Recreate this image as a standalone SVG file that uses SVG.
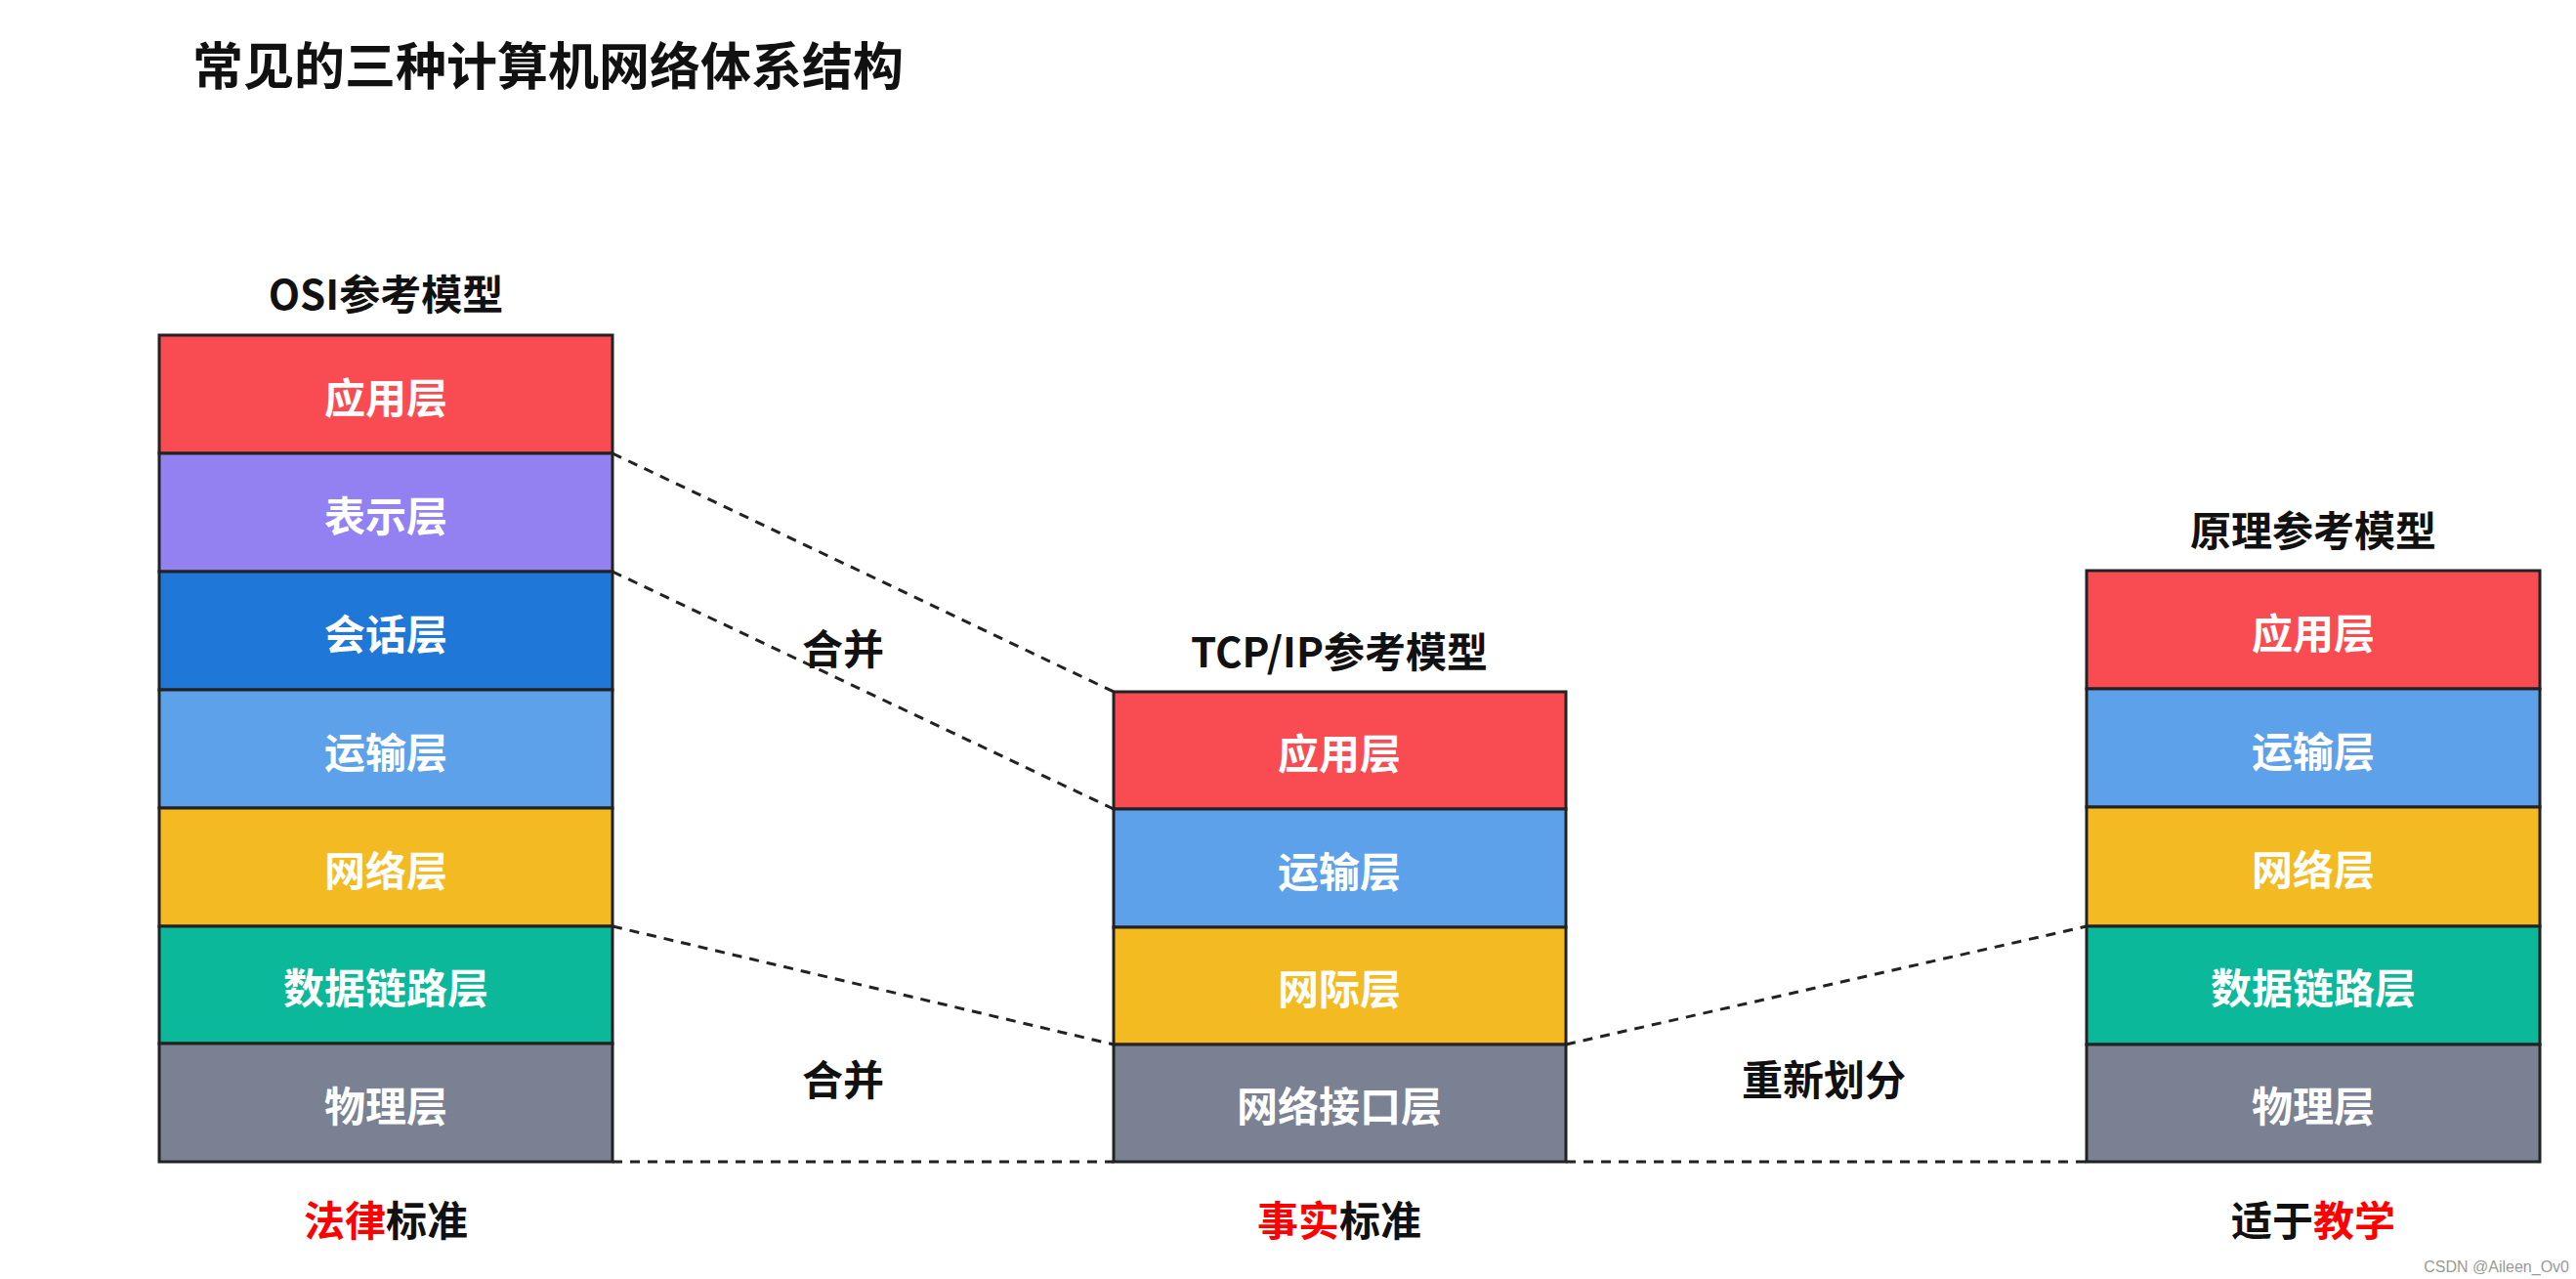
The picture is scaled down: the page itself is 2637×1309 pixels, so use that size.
<svg xmlns="http://www.w3.org/2000/svg" width="2637" height="1309" viewBox="0 0 2637 1309">
<style>
text{font-family:"Noto Sans CJK SC","Liberation Sans",sans-serif;font-weight:bold;text-anchor:middle;dominant-baseline:central}
.l{font-size:42px;fill:#fff}
.h{font-size:42px;fill:#111}
.b{stroke:#222;stroke-width:3}
.d{stroke:#222;stroke-width:3;stroke-dasharray:10 8;fill:none}
.r{fill:#f00}
.red{fill:#F94B52}.pur{fill:#9381F1}.dbl{fill:#1F78D8}.lbl{fill:#5DA1EA}.yel{fill:#F3BA22}.tea{fill:#0BB89A}.gry{fill:#7A8193}
</style>
<rect width="2637" height="1309" fill="#fff"/>
<text x="197" y="64" style="text-anchor:start;font-size:52px;fill:#111">常见的三种计算机网络体系结构</text>
<g id="connectors">
<path class="d" d="M627 464L1140 708M627 585L1140 828M627 948L1140 1069M627 1189H1140M1603 1069L2136 948M1603 1189H2136"/>
</g>
<g id="osi">
<text class="h" x="395" y="298">OSI参考模型</text>
<rect class="b red" x="163" y="343" width="464" height="121"/><text class="l" x="395" y="404">应用层</text>
<rect class="b pur" x="163" y="464" width="464" height="121"/><text class="l" x="395" y="525">表示层</text>
<rect class="b dbl" x="163" y="585" width="464" height="121"/><text class="l" x="395" y="646">会话层</text>
<rect class="b lbl" x="163" y="706" width="464" height="121"/><text class="l" x="395" y="767">运输层</text>
<rect class="b yel" x="163" y="827" width="464" height="121"/><text class="l" x="395" y="888">网络层</text>
<rect class="b tea" x="163" y="948" width="464" height="120"/><text class="l" x="395" y="1008">数据链路层</text>
<rect class="b gry" x="163" y="1068" width="464" height="121"/><text class="l" x="395" y="1129">物理层</text>
<text class="h" x="395" y="1246"><tspan class="r">法律</tspan>标准</text>
</g>
<g id="tcpip">
<text class="h" x="1371" y="664">TCP/IP参考模型</text>
<rect class="b red" x="1140" y="708" width="463" height="120"/><text class="l" x="1371" y="768">应用层</text>
<rect class="b lbl" x="1140" y="828" width="463" height="121"/><text class="l" x="1371" y="889">运输层</text>
<rect class="b yel" x="1140" y="949" width="463" height="120"/><text class="l" x="1371" y="1009">网际层</text>
<rect class="b gry" x="1140" y="1069" width="463" height="120"/><text class="l" x="1371" y="1129">网络接口层</text>
<text class="h" x="1371" y="1246"><tspan class="r">事实</tspan>标准</text>
</g>
<g id="principle">
<text class="h" x="2368" y="540">原理参考模型</text>
<rect class="b red" x="2136" y="584" width="464" height="121"/><text class="l" x="2368" y="645">应用层</text>
<rect class="b lbl" x="2136" y="705" width="464" height="121"/><text class="l" x="2368" y="766">运输层</text>
<rect class="b yel" x="2136" y="826" width="464" height="122"/><text class="l" x="2368" y="887">网络层</text>
<rect class="b tea" x="2136" y="948" width="464" height="121"/><text class="l" x="2368" y="1008">数据链路层</text>
<rect class="b gry" x="2136" y="1069" width="464" height="120"/><text class="l" x="2368" y="1129">物理层</text>
<text class="h" x="2368" y="1246">适于<tspan class="r">教学</tspan></text>
</g>
<g id="labels">
<text class="h" x="863" y="661">合并</text>
<text class="h" x="863" y="1102">合并</text>
<text class="h" x="1867" y="1102">重新划分</text>
</g>
<text x="2630" y="1296" style="text-anchor:end;font-size:16px;font-weight:normal;fill:#999;font-family:'Liberation Sans',sans-serif">CSDN @Aileen_Ov0</text>
</svg>
